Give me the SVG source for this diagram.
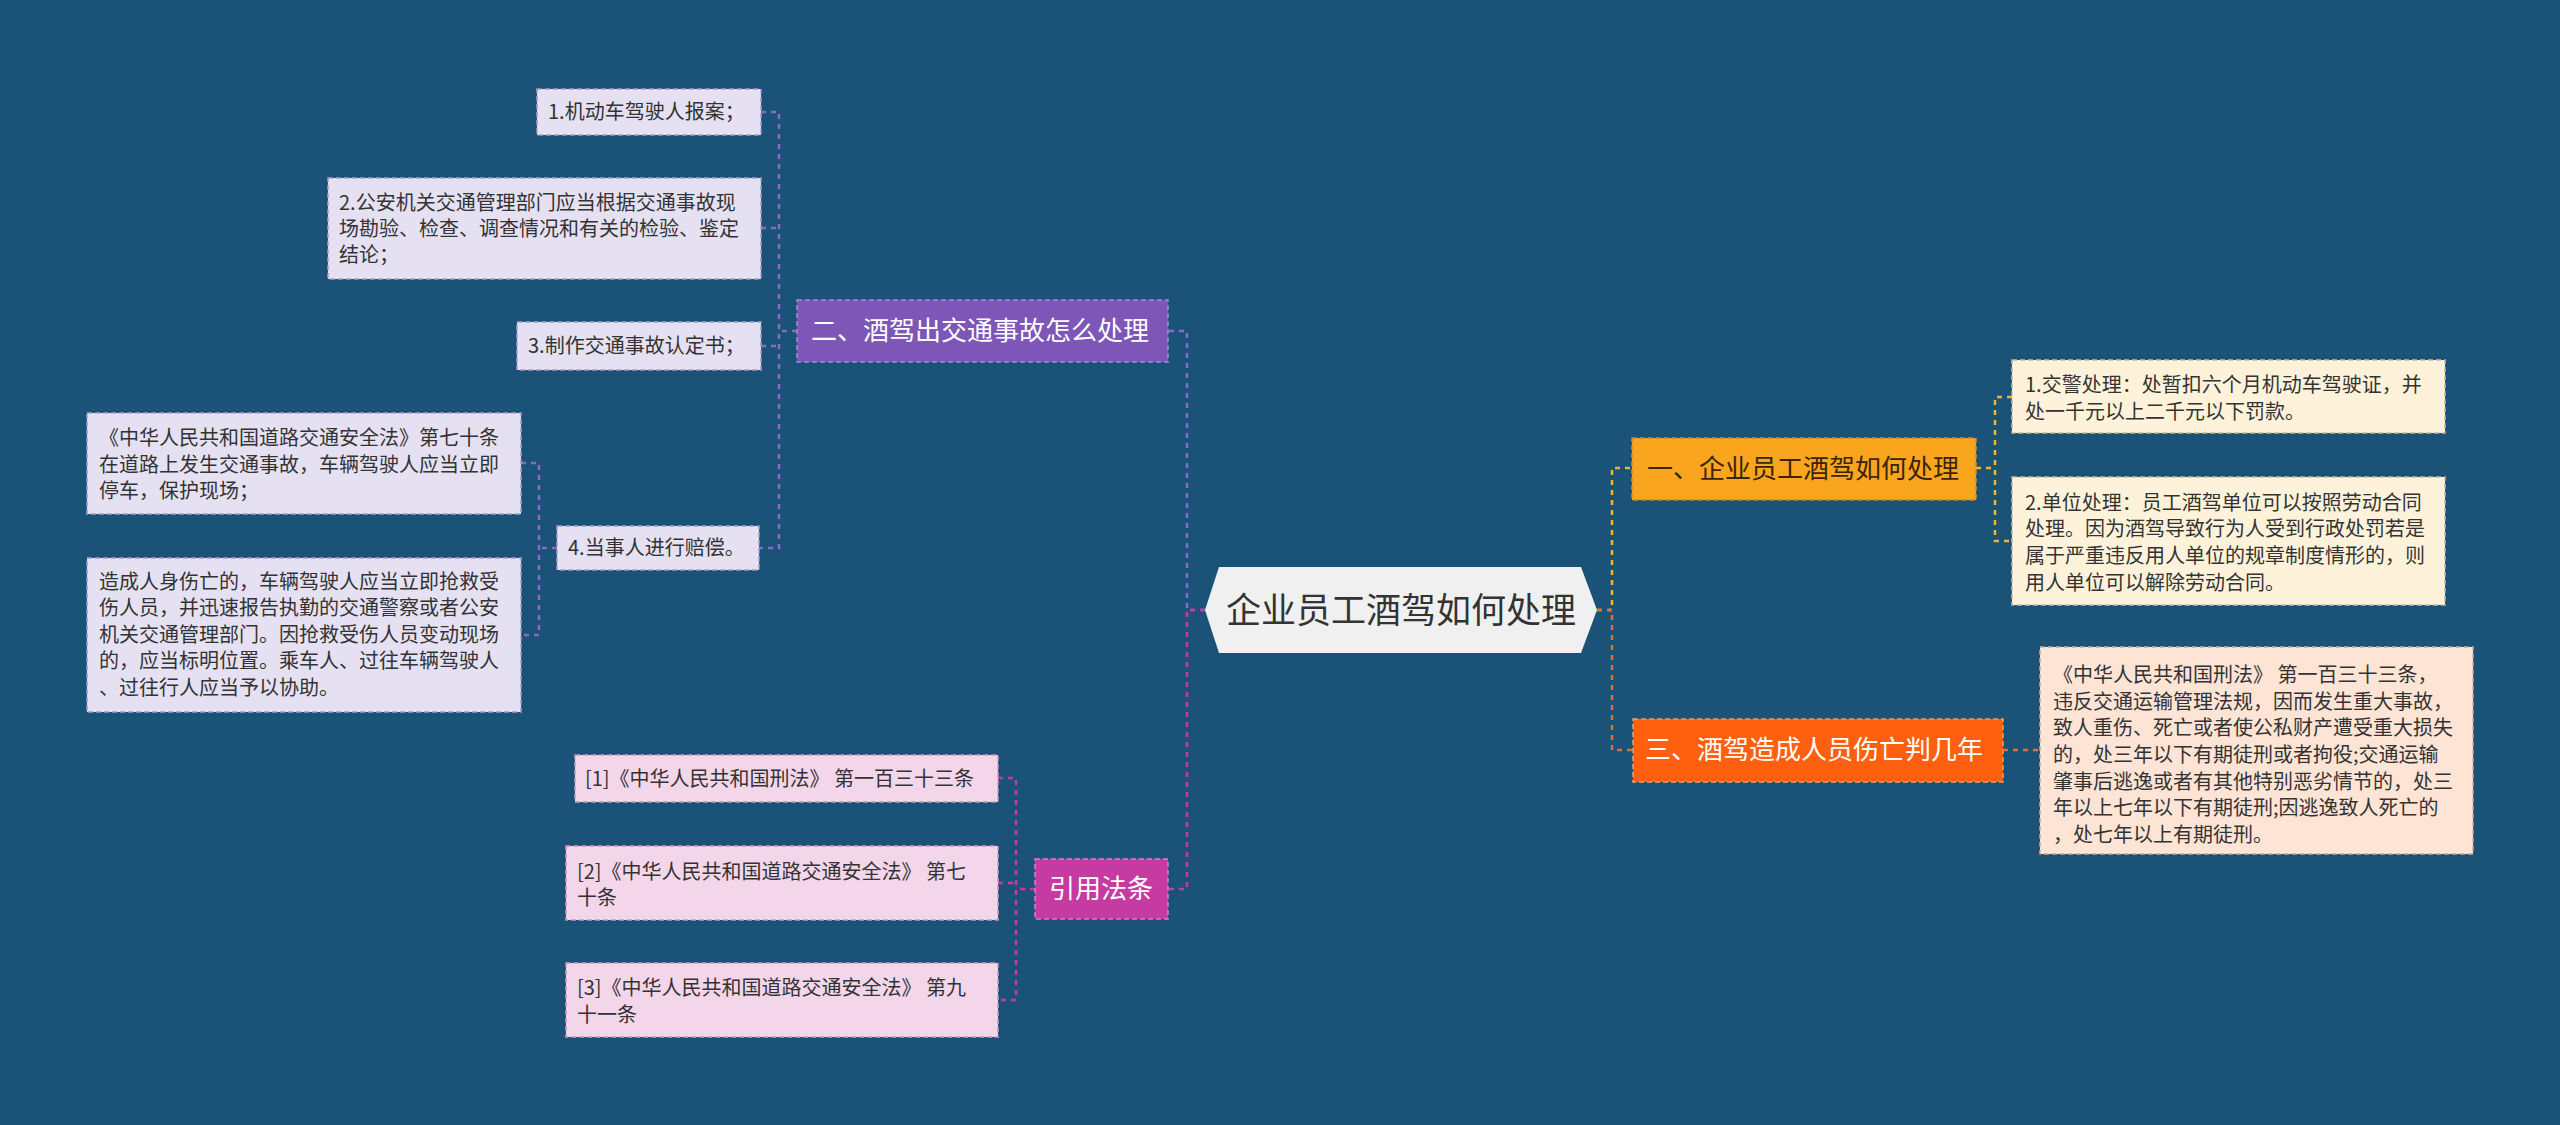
<svg xmlns="http://www.w3.org/2000/svg" width="2560" height="1125" viewBox="0 0 2560 1125">
<style>
text{font-family:"Noto Sans CJK SC","Noto Sans",sans-serif;}
.leaf{font-size:20px;fill:#333333;}
.nt{font-size:26px;fill:#ffffff;}
.lav{fill:#E5E1F2;stroke:#A79CC8;stroke-width:1.5;stroke-dasharray:5 3;}
.pnk{fill:#F4D6EB;stroke:#C99BBD;stroke-width:1.5;stroke-dasharray:5 3;}
.crm{fill:#FEF3DA;stroke:#C8BC9C;stroke-width:1.5;stroke-dasharray:5 3;}
.pch{fill:#FEE4D5;stroke:#C9A998;stroke-width:1.5;stroke-dasharray:5 3;}
.c{fill:none;stroke-width:2.5;stroke-dasharray:5 5;}
.cp{stroke:#8A68C8;}
.cm{stroke:#C53BA2;}
.co{stroke:#F2B23A;}
.cr{stroke:#F0692A;}
</style>
<rect x="0" y="0" width="2560" height="1125" fill="#1B5378"/>
<g id="connectors">
<path class="c cp" d="M1205 610 H1187 V331 H1168"/>
<path class="c cm" d="M1205 610 H1187 V889 H1168"/>
<path class="c co" d="M1597 610 H1612 V468 H1632"/>
<path class="c cr" d="M1597 610 H1612 V750 H1633"/>
<path class="c cp" d="M797 331 H779"/>
<path class="c cp" d="M761 112 H779 V548 H759"/>
<path class="c cp" d="M761 228 H779"/>
<path class="c cp" d="M761 346 H779"/>
<path class="c cp" d="M557 548 H539"/>
<path class="c cp" d="M521 463 H539 V635 H521"/>
<path class="c cm" d="M1035 889 H1016"/>
<path class="c cm" d="M998 778 H1016 V1000 H998"/>
<path class="c cm" d="M998 883 H1016"/>
<path class="c co" d="M1976 468 H1995"/>
<path class="c co" d="M2012 397 H1995 V541 H2012"/>
<path class="c cr" d="M2003 750 H2040"/>
</g>
<g id="root">
<polygon points="1205,610 1219,567 1581,567 1597,610 1581,653 1219,653" fill="#F0F0F0"/>
<text x="1401" y="623" text-anchor="middle" font-size="35" fill="#333333">企业员工酒驾如何处理</text>
</g>
<g id="branch2">
<rect x="797" y="300" width="371" height="62" fill="#7D56B7" stroke="#A58AD6" stroke-width="1.5" stroke-dasharray="5 3"/>
<text class="nt" x="811" y="340">二、酒驾出交通事故怎么处理</text>
</g>
<g id="b2c1">
<rect class="lav" x="537" y="89" width="224" height="46"/>
<text class="leaf" x="548" y="119">1.机动车驾驶人报案；</text>
</g>
<g id="b2c2">
<rect class="lav" x="328" y="178" width="433" height="101"/>
<text class="leaf"><tspan x="339" y="210">2.公安机关交通管理部门应当根据交通事故现</tspan><tspan x="339" y="236">场勘验、检查、调查情况和有关的检验、鉴定</tspan><tspan x="339" y="262">结论；</tspan></text>
</g>
<g id="b2c3">
<rect class="lav" x="517" y="322" width="244" height="48"/>
<text class="leaf" x="528" y="353">3.制作交通事故认定书；</text>
</g>
<g id="b2c4">
<rect class="lav" x="557" y="526" width="202" height="44"/>
<text class="leaf" x="568" y="555">4.当事人进行赔偿。</text>
</g>
<g id="b2c4a">
<rect class="lav" x="87" y="413" width="434" height="101"/>
<text class="leaf"><tspan x="99" y="445">《中华人民共和国道路交通安全法》第七十条</tspan><tspan x="99" y="472">在道路上发生交通事故，车辆驾驶人应当立即</tspan><tspan x="99" y="498">停车，保护现场；</tspan></text>
</g>
<g id="b2c4b">
<rect class="lav" x="87" y="558" width="434" height="154"/>
<text class="leaf"><tspan x="99" y="589">造成人身伤亡的，车辆驾驶人应当立即抢救受</tspan><tspan x="99" y="615">伤人员，并迅速报告执勤的交通警察或者公安</tspan><tspan x="99" y="642">机关交通管理部门。因抢救受伤人员变动现场</tspan><tspan x="99" y="668">的，应当标明位置。乘车人、过往车辆驾驶人</tspan><tspan x="99" y="695">、过往行人应当予以协助。</tspan></text>
</g>
<g id="refs">
<rect x="1035" y="859" width="133" height="60" fill="#C53BA2" stroke="#E07CC8" stroke-width="1.5" stroke-dasharray="5 3"/>
<text class="nt" x="1101" y="898" text-anchor="middle">引用法条</text>
</g>
<g id="ref1">
<rect class="pnk" x="575" y="755" width="423" height="47"/>
<text class="leaf" x="585" y="786">[1]《中华人民共和国刑法》 第一百三十三条</text>
</g>
<g id="ref2">
<rect class="pnk" x="566" y="846" width="432" height="74"/>
<text class="leaf"><tspan x="577" y="879">[2]《中华人民共和国道路交通安全法》 第七</tspan><tspan x="577" y="905">十条</tspan></text>
</g>
<g id="ref3">
<rect class="pnk" x="566" y="963" width="432" height="74"/>
<text class="leaf"><tspan x="577" y="995">[3]《中华人民共和国道路交通安全法》 第九</tspan><tspan x="577" y="1022">十一条</tspan></text>
</g>
<g id="branch1">
<rect x="1632" y="438" width="344" height="62" fill="#F9A61E" stroke="#C98A2A" stroke-width="1.5" stroke-dasharray="5 3"/>
<text class="nt" x="1647" y="478" style="fill:#3A2506">一、企业员工酒驾如何处理</text>
</g>
<g id="b1c1">
<rect class="crm" x="2012" y="360" width="433" height="73"/>
<text class="leaf"><tspan x="2025" y="392">1.交警处理：处暂扣六个月机动车驾驶证，并</tspan><tspan x="2025" y="419">处一千元以上二千元以下罚款。</tspan></text>
</g>
<g id="b1c2">
<rect class="crm" x="2012" y="477" width="433" height="128"/>
<text class="leaf"><tspan x="2025" y="510">2.单位处理：员工酒驾单位可以按照劳动合同</tspan><tspan x="2025" y="536">处理。因为酒驾导致行为人受到行政处罚若是</tspan><tspan x="2025" y="563">属于严重违反用人单位的规章制度情形的，则</tspan><tspan x="2025" y="590">用人单位可以解除劳动合同。</tspan></text>
</g>
<g id="branch3">
<rect x="1633" y="719" width="370" height="63" fill="#FF600F" stroke="#FF9A60" stroke-width="1.5" stroke-dasharray="5 3"/>
<text class="nt" x="1645" y="759">三、酒驾造成人员伤亡判几年</text>
</g>
<g id="b3c1">
<rect class="pch" x="2040" y="647" width="433" height="207"/>
<text class="leaf"><tspan x="2053" y="682">《中华人民共和国刑法》 第一百三十三条，</tspan><tspan x="2053" y="709">违反交通运输管理法规，因而发生重大事故，</tspan><tspan x="2053" y="735">致人重伤、死亡或者使公私财产遭受重大损失</tspan><tspan x="2053" y="762">的，处三年以下有期徒刑或者拘役;交通运输</tspan><tspan x="2053" y="789">肇事后逃逸或者有其他特别恶劣情节的，处三</tspan><tspan x="2053" y="815">年以上七年以下有期徒刑;因逃逸致人死亡的</tspan><tspan x="2053" y="842">，处七年以上有期徒刑。</tspan></text>
</g>
</svg>
